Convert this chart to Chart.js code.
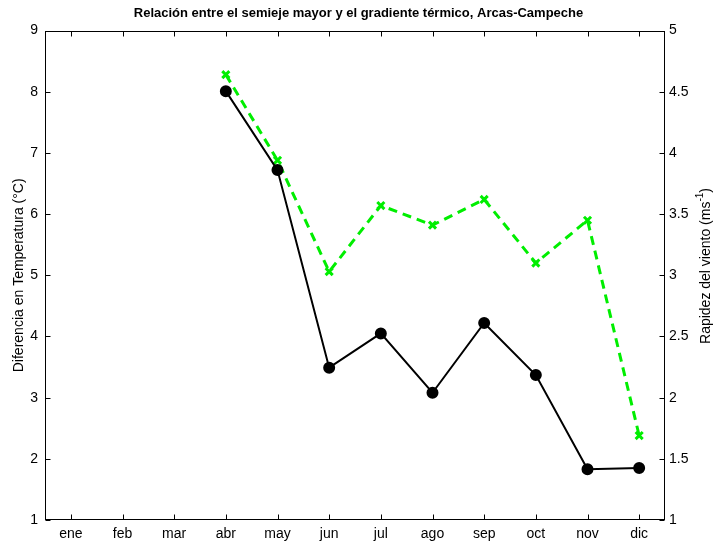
<!DOCTYPE html>
<html>
<head>
<meta charset="utf-8">
<script src="https://cdn.jsdelivr.net/npm/chart.js@4.4.1/dist/chart.umd.min.js"></script>
<style>
  html, body { margin: 0; padding: 0; background: #fff; }
</style>
</head>
<body>
<canvas id="grafica" width="717" height="542"></canvas>
<script>
// datos
const meses = ['ene', 'feb', 'mar', 'abr', 'may', 'jun', 'jul', 'ago', 'sep', 'oct', 'nov', 'dic'];
const difTemperatura = [null, null, null, 8.01, 6.72, 3.49, 4.05, 3.08, 4.22, 3.37, 1.83, 1.85];
const rapidezViento = [null, null, null, 4.64, 3.94, 3.03, 3.57, 3.41, 3.62, 3.10, 3.45, 1.69];
const ticksTemp = [1, 2, 3, 4, 5, 6, 7, 8, 9];
const ticksViento = [1, 1.5, 2, 2.5, 3, 3.5, 4, 4.5, 5];

const fuente = 'Liberation Sans, Arial, sans-serif';
Chart.defaults.font.family = fuente;
Chart.defaults.font.size = 14;
Chart.defaults.color = '#000';

// marcas hacia dentro y caja, estilo matlab
const marcasEjes = {
    id: 'marcasEjes',
    afterDatasetsDraw(chart) {
        const { ctx, chartArea: a, scales } = chart;
        const L = Math.round(a.left) + 0.5, R = Math.round(a.right) - 0.5;
        const T = Math.round(a.top) + 0.5, B = Math.round(a.bottom) - 0.5;
        const largo = 5;
        ctx.save();
        ctx.strokeStyle = '#000';
        ctx.lineWidth = 1;
        ctx.beginPath();
        scales.x.ticks.forEach((t, i) => {
            const px = Math.round(scales.x.getPixelForTick(i)) + 0.5;
            ctx.moveTo(px, B); ctx.lineTo(px, B - largo);
            ctx.moveTo(px, T); ctx.lineTo(px, T + largo);
        });
        ticksTemp.forEach(v => {
            const py = Math.round(scales.y.getPixelForValue(v)) + 0.5;
            ctx.moveTo(L, py); ctx.lineTo(L + largo, py);
        });
        ticksViento.forEach(v => {
            const py = Math.round(scales.y2.getPixelForValue(v)) + 0.5;
            ctx.moveTo(R, py); ctx.lineTo(R - largo, py);
        });
        ctx.stroke();
        ctx.strokeRect(L, T, R - L, B - T);

        // titulo del eje derecho con superindice
        const p1 = 'Rapidez del viento (ms', sup = '-1', p2 = ')';
        ctx.fillStyle = '#000';
        ctx.textBaseline = 'middle';
        ctx.font = '14px ' + fuente;
        const w1 = ctx.measureText(p1).width, w3 = ctx.measureText(p2).width;
        ctx.font = '10px ' + fuente;
        const w2 = ctx.measureText(sup).width;
        const total = w1 + w2 + w3;
        ctx.translate(706, 266);
        ctx.rotate(-Math.PI / 2);
        let x0 = -total / 2;
        ctx.font = '14px ' + fuente;
        ctx.fillText(p1, x0, 0);
        ctx.font = '10px ' + fuente;
        ctx.fillText(sup, x0 + w1, -6);
        ctx.font = '14px ' + fuente;
        ctx.fillText(p2, x0 + w1 + w2, 0);
        ctx.restore();
    }
};

const ctx = document.getElementById('grafica');

new Chart(ctx, {
    type: 'line',
    data: {
        labels: meses,
        datasets: [{
            label: 'Diferencia en Temperatura',
            data: difTemperatura,
            yAxisID: 'y',
            borderColor: '#000',
            backgroundColor: '#000',
            borderWidth: 2,
            pointRadius: 5,
            pointStyle: 'circle',
            tension: 0
        }, {
            label: 'Rapidez del viento',
            data: rapidezViento,
            yAxisID: 'y2',
            borderColor: '#00ee00',
            backgroundColor: '#00ee00',
            borderWidth: 3,
            borderDash: [9, 6],
            pointRadius: 5,
            pointStyle: 'crossRot',
            pointBorderWidth: 3,
            tension: 0
        }]
    },
    options: {
        responsive: false,
        animation: false,
        layout: { padding: 0 },
        plugins: {
            legend: { display: false },
            tooltip: { enabled: false },
            title: {
                display: true,
                text: 'Relación entre el semieje mayor y el gradiente térmico, Arcas-Campeche',
                font: { size: 13, weight: 'bold' },
                padding: { top: 6, bottom: 9 }
            }
        },
        scales: {
            x: {
                offset: true,
                grid: { display: false, drawTicks: false },
                border: { display: false },
                ticks: { padding: 6, maxRotation: 0, autoSkip: false },
                afterFit: s => { s.height = 22; }
            },
            y: {
                position: 'left',
                min: 1, max: 9,
                grid: { display: false, drawTicks: false },
                border: { display: false },
                ticks: { padding: 7, callback: v => String(v) },
                afterBuildTicks: s => { s.ticks = ticksTemp.map(v => ({ value: v })); },
                title: {
                    display: true,
                    text: 'Diferencia en Temperatura (°C)',
                    font: { size: 14 },
                    padding: { top: 11, bottom: 0 }
                },
                afterFit: s => { s.width = 45; }
            },
            y2: {
                position: 'right',
                min: 1, max: 5,
                grid: { display: false, drawTicks: false },
                border: { display: false },
                ticks: { padding: 4, callback: v => String(v) },
                afterBuildTicks: s => { s.ticks = ticksViento.map(v => ({ value: v })); },
                afterFit: s => { s.width = 52; }
            }
        }
    },
    plugins: [marcasEjes]
});
</script>
</body>
</html>
